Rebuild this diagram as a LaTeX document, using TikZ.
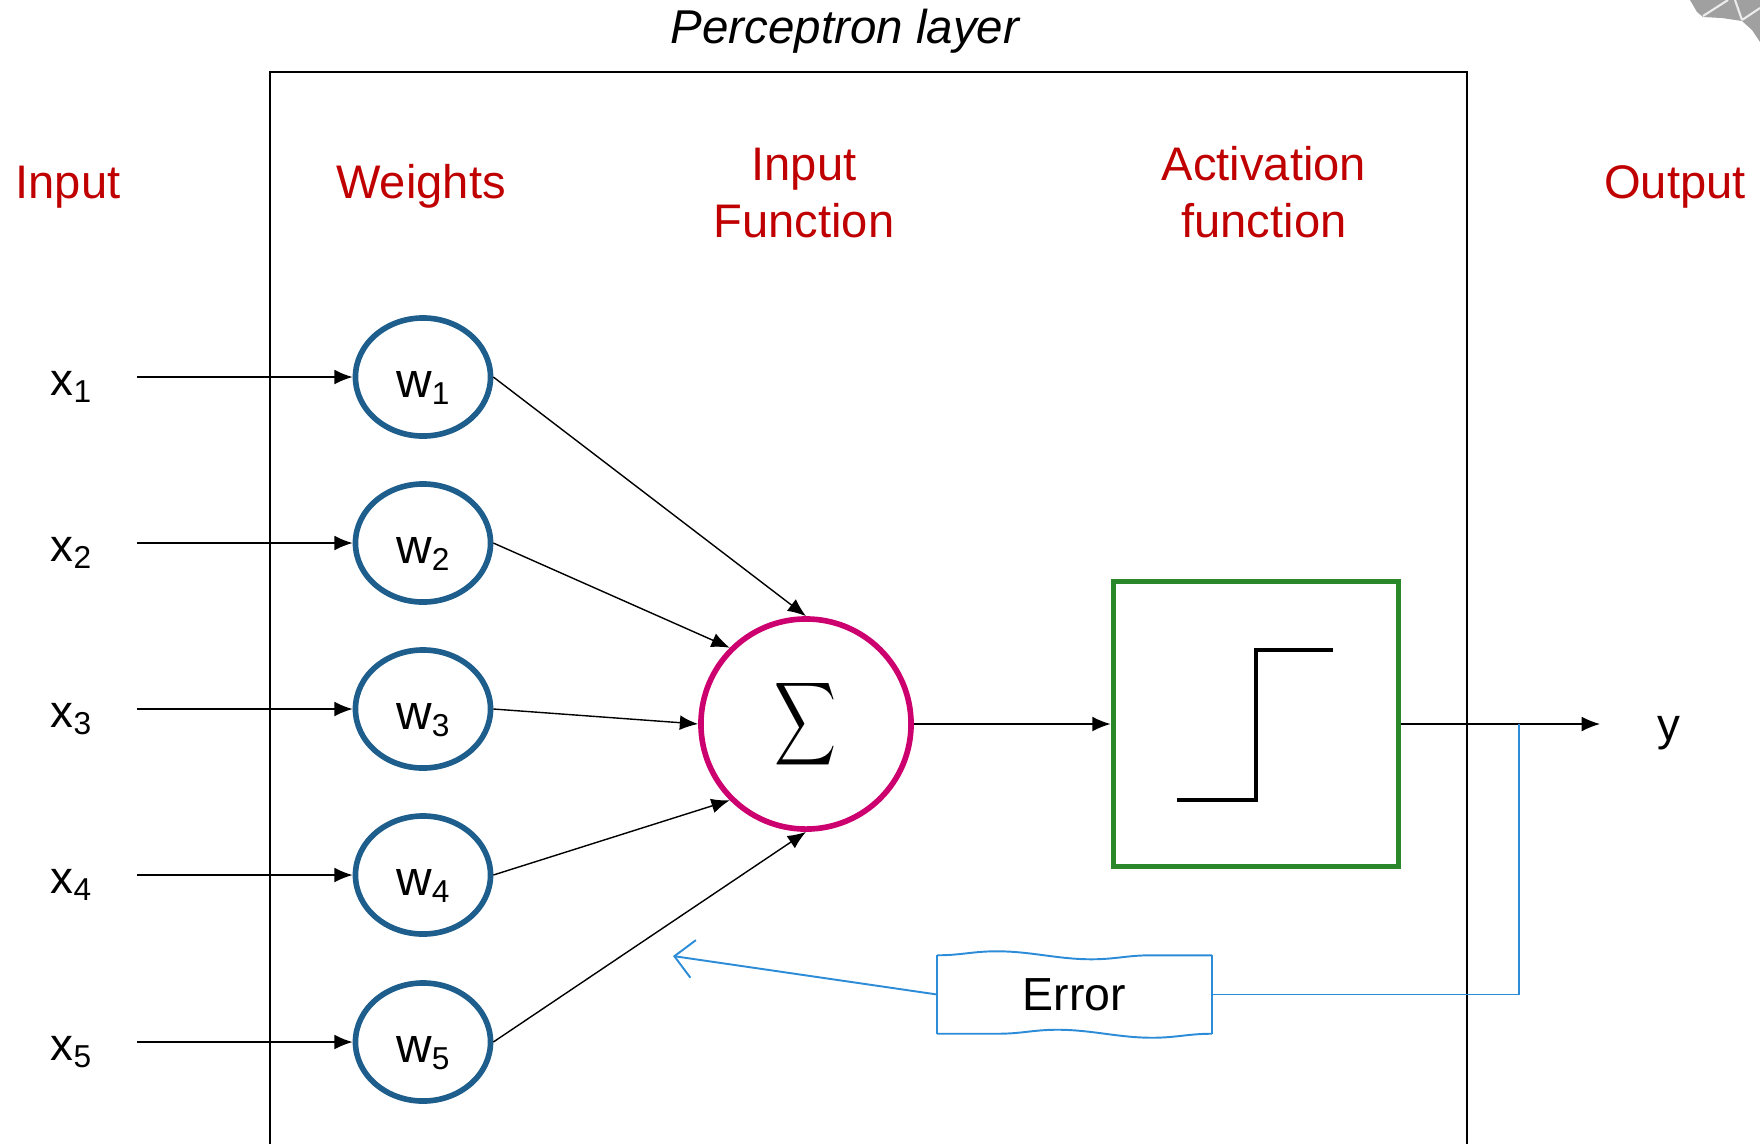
\documentclass[tikz,border=0pt]{standalone}
\usepackage{fontspec}
\setmainfont{Liberation Sans}
\usetikzlibrary{shapes.geometric,arrows.meta,decorations.pathmorphing,calc}

\definecolor{headred}{RGB}{192,0,0}
\definecolor{wblue}{RGB}{30,94,140}
\definecolor{summag}{RGB}{204,0,110}
\definecolor{actgreen}{RGB}{42,135,42}
\definecolor{errblue}{RGB}{45,140,215}
\definecolor{cornergray}{RGB}{160,160,160}

% lowered index for x_i and w_i
\newcommand\subidx[1]{\raisebox{-2.1pt}{\fontsize{9}{9}\selectfont #1}}

\begin{document}
\begin{tikzpicture}[x=0.01cm,y=-0.01cm,
  frame/.style={draw=black,line width=0.75pt},
  title/.style={font=\fontsize{13.5}{16}\selectfont\itshape,inner sep=0pt},
  head/.style={text=headred,font=\fontsize{13.4}{16.2}\selectfont,inner sep=0pt},
  var/.style={font=\fontsize{13}{15}\selectfont,inner sep=0pt},
  wnode/.style={ellipse,draw=wblue,line width=1.6pt,minimum width=1.35cm,
    minimum height=1.18cm,inner sep=0pt,font=\fontsize{14}{16}\selectfont,
    text height=0.4cm,text depth=0pt},
  sumnode/.style={circle,draw=summag,line width=1.6pt,minimum size=2.1cm,inner sep=0pt},
  actbox/.style={rectangle,draw=actgreen,line width=1.6pt,minimum size=2.85cm,inner sep=0pt},
  stepline/.style={line width=1.05pt,black},
  arr/.style={line width=0.4pt,-{Latex[length=5.2pt,width=4.2pt]}},
  errbox/.style={rectangle,minimum width=2.73cm,minimum height=0.77cm,inner sep=0pt,
    font=\fontsize{13.2}{15}\selectfont},
  errline/.style={draw=errblue,line width=0.55pt},
  wavy/.style={decorate,decoration={snake,segment length=1.9cm,amplitude=0.04cm}}
]
\useasboundingbox (0,0) rectangle (1760,1144);

% corner of a network graphic
\fill[cornergray] (1690,0) -- (1697,12) -- (1703,17) -- (1722,18) -- (1742,21)
  -- (1752,30) -- (1760,42) -- (1760,0) -- cycle;
\draw[white!80!cornergray,line width=0.6pt] (1703,16) -- (1728,0)
  (1742,20) -- (1735,0) (1742,20) -- (1760,8);

% perceptron layer frame
\draw[frame] (270,1144) -- (270,72) -- (1467,72) -- (1467,1144);
\node[title,anchor=base] (ttl) at (845,43) {Perceptron layer};

% column headings
\node[head,anchor=base] (hin)  at (68,198)   {Input};
\node[head,anchor=base] (hw)   at (421,198)  {Weights};
\node[head,anchor=base,align=center] (hif)  at (804,237)  {Input\\Function};
\node[head,anchor=base,align=center] (haf)  at (1264,237) {Activation\\function};
\node[head,anchor=base] (hout) at (1675,198) {Output};

% inputs and weights
\foreach \i/\r in {1/377,2/543,3/709,4/875,5/1042}{
  \node[var,anchor=base west] (x\i) at (50,\r+18) {x\subidx{\i}};
  \coordinate (s\i) at (137,\r);
  \node[wnode] (w\i) at (423,\r) {w\subidx{\i}};
  \draw[arr] (s\i) -- (w\i.west);
}

% summation
\node[sumnode] (sig) at (806,724) {\resizebox*{0.62cm}{0.93cm}{$\displaystyle\sum$}};
\draw[arr] (w1.east) -- (sig.north);
\draw[arr] (w2.east) -- (sig.135);
\draw[arr] (w3.east) -- (sig.west);
\draw[arr] (w4.east) -- (sig.225);
\draw[arr] (w5.east) -- (sig.south);

% activation (step function)
\node[actbox] (act) at (1256,724) {};
\draw[stepline] ($(act)+(-79,76)$) -- ($(act)+(0,76)$) -- ($(act)+(0,-74)$) -- ($(act)+(77,-74)$);
\draw[arr] (sig.east) -- (act.west);

% output
\coordinate (yend) at (1600,724);
\draw[arr] (act.east) -- (yend);
\node[var,anchor=base] (yout) at (1669,740) {y};

% error feedback
\node[errbox] (err) at (1074.5,994.5) {Error};
\draw[errline,wavy] (err.north west) -- (err.north east);
\draw[errline,wavy] (err.south east) -- (err.south west);
\draw[errline] (err.north east) -- (err.south east);
\draw[errline] (err.south west) -- (err.north west);
\coordinate (tap) at (1519,724);
\draw[errline,line width=0.4pt] (tap) |- (err.east);
\coordinate (errtip) at (673,956);
\draw[errline,-{Straight Barb[length=5.4pt,width=10.8pt]}] (err.west) -- (errtip);
\end{tikzpicture}
\end{document}
